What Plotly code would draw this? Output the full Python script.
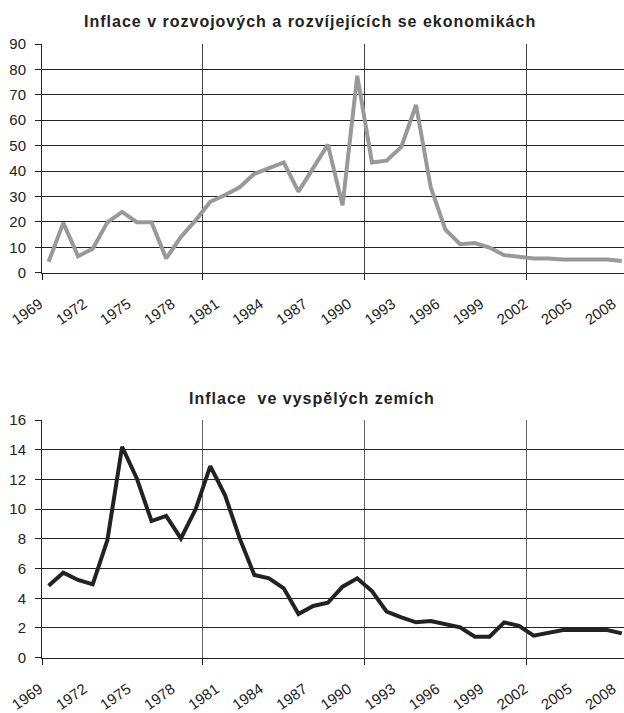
import plotly.graph_objects as go

# Inflation series, 1969-2008 (annual %, read per year)
years = list(range(1969, 2009))
developing = [4.3, 19.6, 6.5, 9.4, 19.8, 23.9, 19.9, 19.9, 5.6, 14.1,
              20.6, 27.9, 30.6, 33.6, 38.9, 41.1, 43.4, 31.9, 40.8, 50.4,
              26.5, 77.5, 43.4, 44.1, 49.5, 66.0, 33.6, 16.9, 11.2, 11.7,
              9.9, 6.9, 6.3, 5.6, 5.6, 5.2, 5.2, 5.2, 5.2, 4.6]
advanced = [4.85, 5.72, 5.23, 4.94, 7.92, 14.2, 12.07, 9.2, 9.54, 8.03,
            9.99, 12.9, 10.95, 8.03, 5.57, 5.34, 4.67, 2.94, 3.48, 3.70,
            4.78, 5.34, 4.49, 3.10, 2.72, 2.38, 2.47, 2.24, 2.04, 1.41,
            1.41, 2.38, 2.15, 1.48, 1.68, 1.86, 1.86, 1.86, 1.86, 1.64]

tick_years = list(range(1969, 2009, 3))
tick_labels = [str(y) for y in tick_years]
title_top = "Inflace v rozvojových a rozvíjejících se ekonomikách"
title_bottom = "Inflace\u00a0 ve vyspělých zemích"

W, H = 624, 713
FONT = "Liberation Sans, Arial, sans-serif"
INK = "#222222"

fig = go.Figure()
fig.add_trace(go.Scatter(x=years, y=developing, mode="lines",
                         line=dict(color="#999999", width=4),
                         xaxis="x", yaxis="y", showlegend=False))
fig.add_trace(go.Scatter(x=years, y=advanced, mode="lines",
                         line=dict(color="#222222", width=4),
                         xaxis="x2", yaxis="y2", showlegend=False))

x_left = 42 / W
x_range = [1968.55, 2008.15]
grid_years = [1968.55, 1979.5, 1990.5, 2001.5]


def xaxis_cfg(anchor, grid_color):
    return dict(
        domain=[x_left, 1], anchor=anchor, range=x_range, automargin=False,
        tickmode="array", tickvals=tick_years, ticktext=tick_labels,
        tickangle=-35, ticks="", showgrid=False, zeroline=False,
        ticklabelstandoff=16, ticklabelshift=-9, ticklabeloverflow="allow",
        showline=True, linecolor=INK, linewidth=1,
        tickfont=dict(family=FONT, size=15, color=INK),
        minor=dict(tickmode="array", tickvals=grid_years, showgrid=True,
                   gridcolor=grid_color, gridwidth=1, ticks="outside",
                   ticklen=6, tickcolor=INK, tickwidth=1),
    )


def yaxis_cfg(anchor, domain, top, step):
    return dict(
        domain=domain, anchor=anchor, range=[0, top], dtick=step,
        tick0=0, automargin=False, showgrid=True, gridcolor=INK, gridwidth=1,
        zeroline=False, showline=True, linecolor=INK, linewidth=1,
        ticks="outside", ticklen=6, tickcolor=INK, ticklabelstandoff=6,
        tickfont=dict(family=FONT, size=15, color=INK),
    )


fig.update_layout(
    width=W, height=H,
    margin=dict(l=0, r=0, t=0, b=0, autoexpand=False),
    paper_bgcolor="white", plot_bgcolor="white",
    xaxis=xaxis_cfg("y", "#444444"),
    yaxis=yaxis_cfg("x", [1 - 272.7 / H, 1 - 44 / H], 90, 10),
    xaxis2=xaxis_cfg("y2", "#666666"),
    yaxis2=yaxis_cfg("x2", [1 - 657.7 / H, 1 - 420 / H], 16, 2),
    annotations=[
        dict(text=title_top, x=310 / W, y=1 - 21 / H, xref="paper", yref="paper",
             showarrow=False, xanchor="center", yanchor="middle",
             font=dict(family=FONT, size=16, color=INK, weight="bold")),
        dict(text=title_bottom, x=312 / W, y=1 - 399 / H, xref="paper", yref="paper",
             showarrow=False, xanchor="center", yanchor="middle",
             font=dict(family=FONT, size=16, color=INK, weight="bold")),
    ],
)

# spaced-out lettering for the two chart titles
spacing_js = (
    "document.querySelectorAll('.annotation-text').forEach(function(t){"
    "t.style.letterSpacing='1px';});"
)
fig.write_html("out.html", post_script=spacing_js)
